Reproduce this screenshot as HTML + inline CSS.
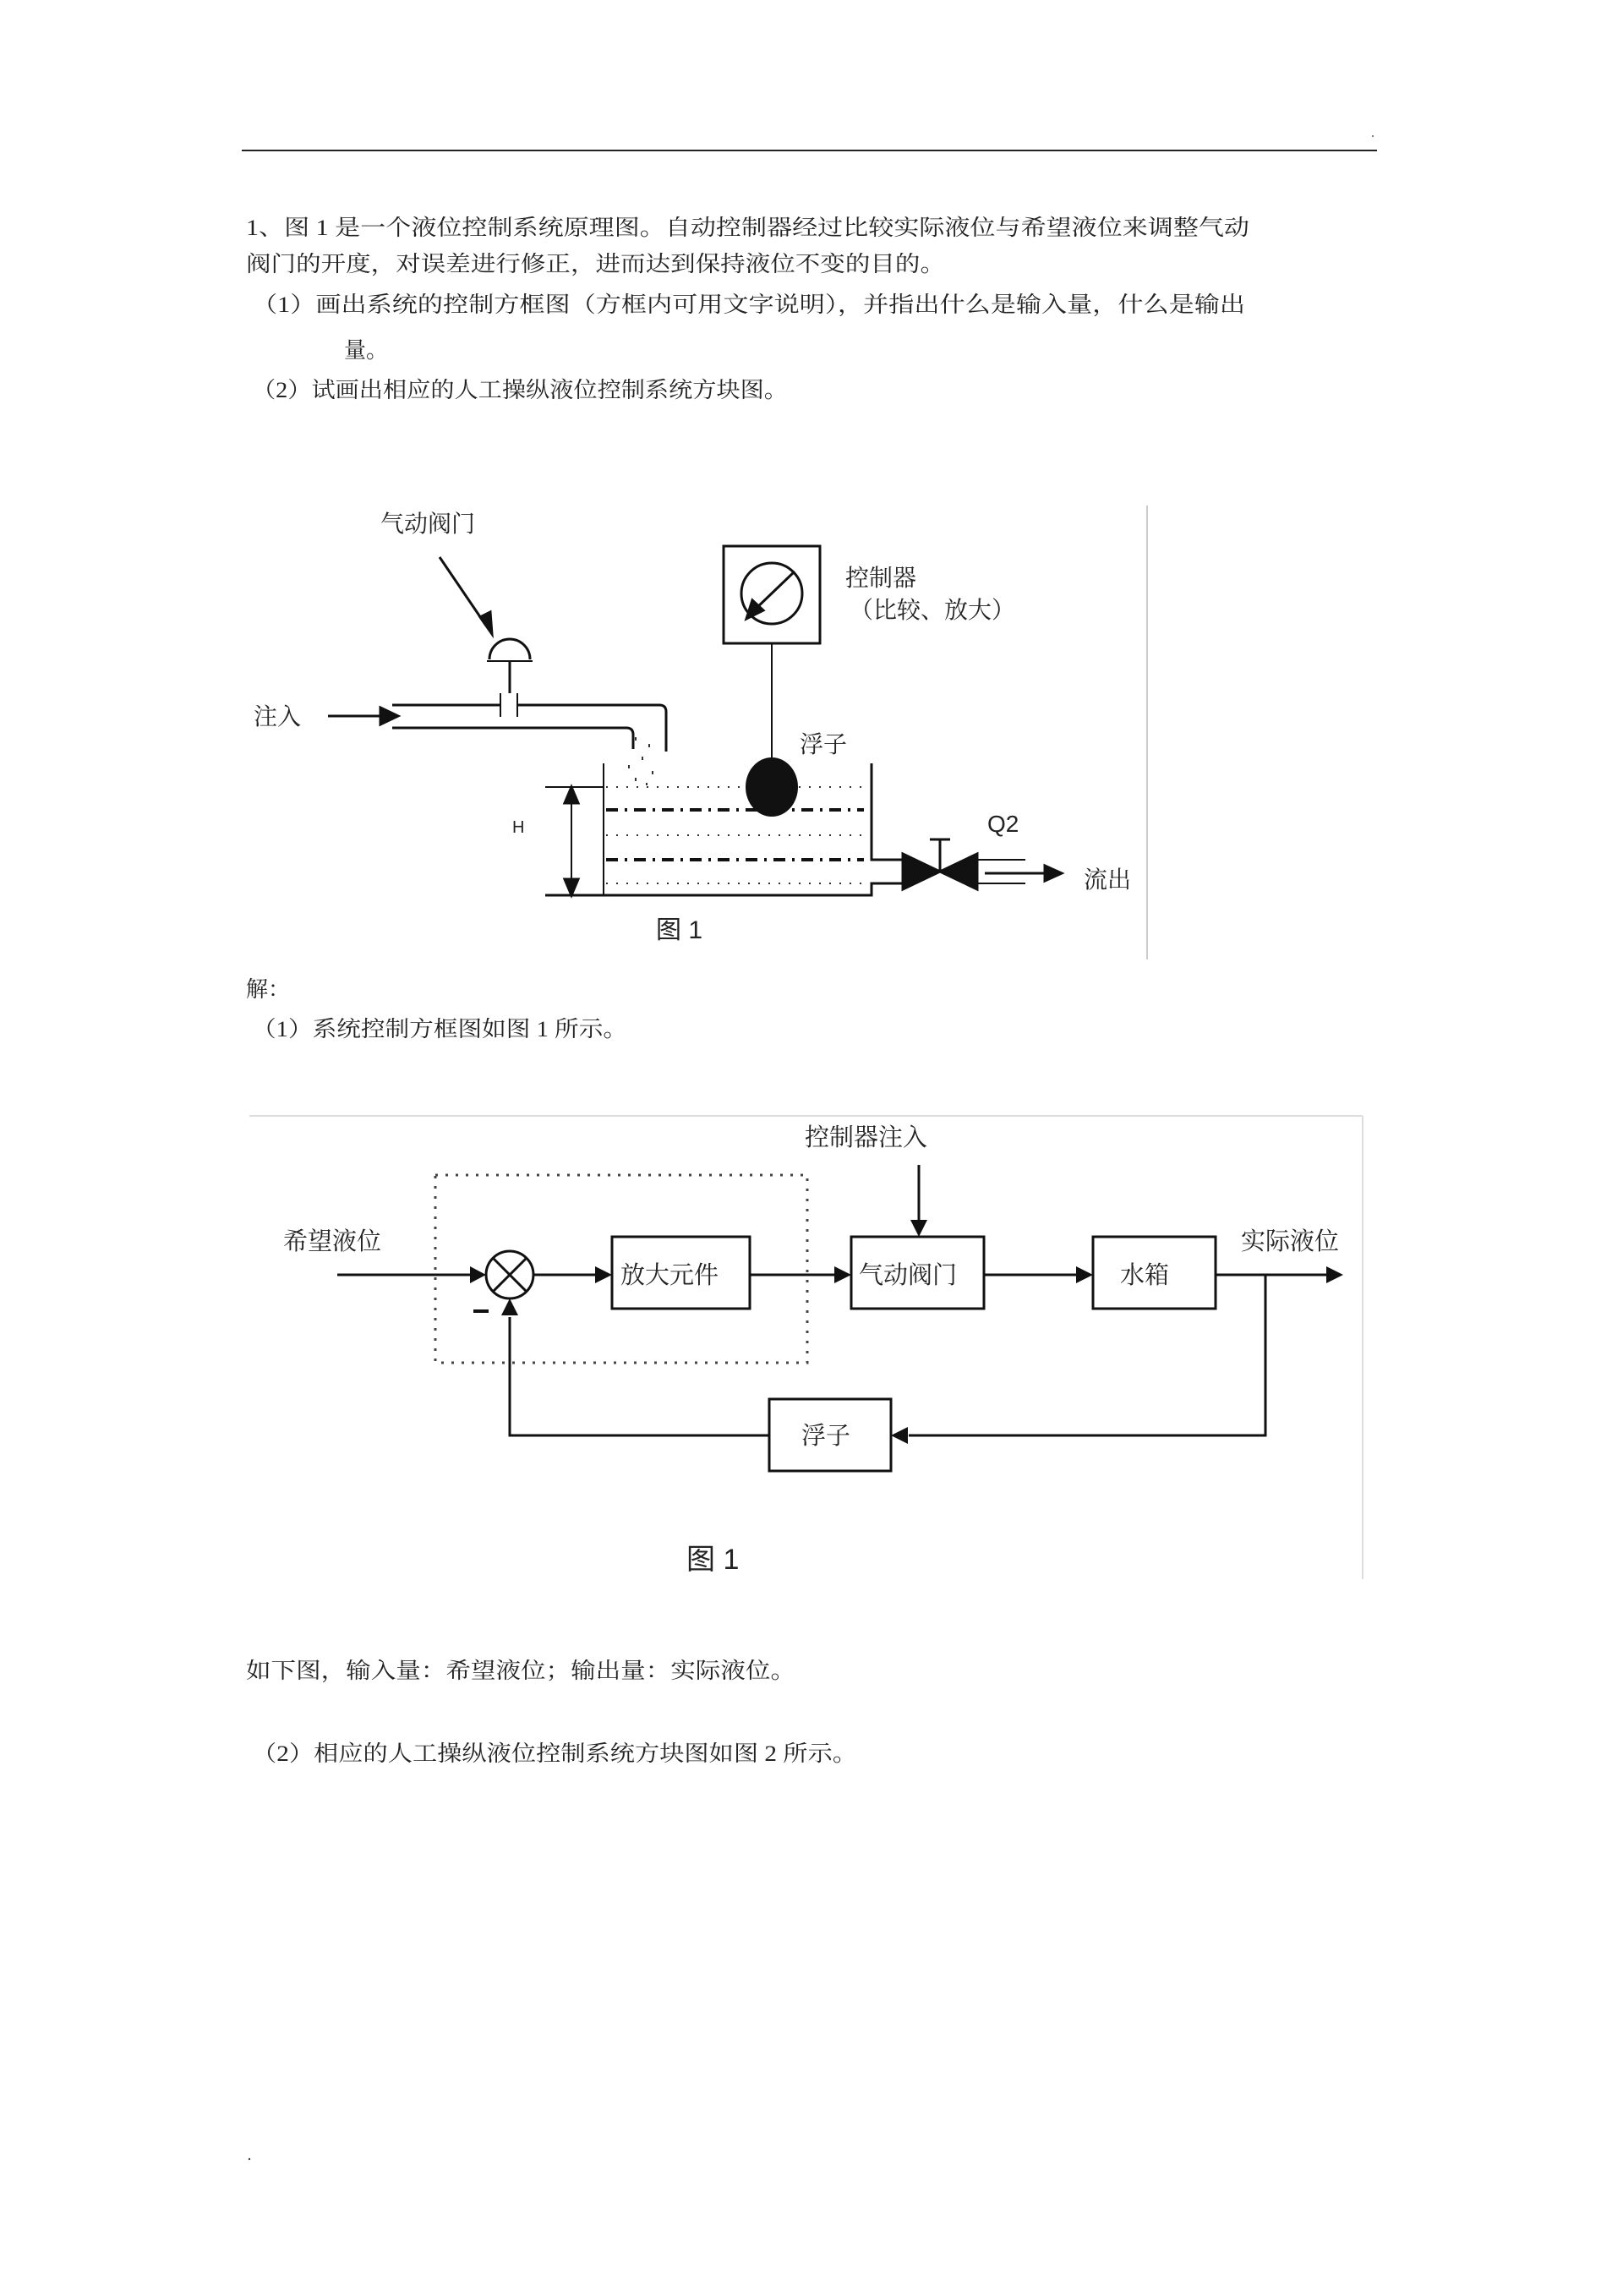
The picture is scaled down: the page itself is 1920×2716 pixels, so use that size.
<!DOCTYPE html>
<html><head><meta charset="utf-8"><style>
html,body{margin:0;padding:0;background:#fff;}
svg{display:block;}
text{font-family:"Liberation Serif","Noto Serif CJK SC",serif;fill:#222;}
.s{font-family:"Liberation Sans","Noto Sans CJK SC",sans-serif;}
</style></head><body>
<svg width="1920" height="2716" viewBox="0 0 1920 2716" xmlns="http://www.w3.org/2000/svg">
<rect width="1920" height="2716" fill="#fff"/>
<line x1="286" y1="178" x2="1629" y2="178" stroke="#222" stroke-width="2"/>
<circle cx="1624" cy="161" r="1" fill="#555"/>
<g font-size="26">
<text x="291" y="278" textLength="1187" lengthAdjust="spacingAndGlyphs">1、图 1 是一个液位控制系统原理图。自动控制器经过比较实际液位与希望液位来调整气动</text>
<text x="291" y="321" textLength="827" lengthAdjust="spacingAndGlyphs">阀门的开度，对误差进行修正，进而达到保持液位不变的目的。</text>
<text x="298" y="369" textLength="1175" lengthAdjust="spacingAndGlyphs">（1）画出系统的控制方框图（方框内可用文字说明），并指出什么是输入量，什么是输出</text>
<text x="407" y="423">量。</text>
<text x="298" y="470" textLength="634" lengthAdjust="spacingAndGlyphs">（2）试画出相应的人工操纵液位控制系统方块图。</text>
<text x="291" y="1179">解：</text>
<text x="298" y="1226" textLength="444" lengthAdjust="spacingAndGlyphs">（1）系统控制方框图如图 1 所示。</text>
<text x="291" y="1985" textLength="650" lengthAdjust="spacingAndGlyphs">如下图，输入量：希望液位；输出量：实际液位。</text>
<text x="298" y="2083" textLength="716" lengthAdjust="spacingAndGlyphs">（2）相应的人工操纵液位控制系统方块图如图 2 所示。</text>
</g>
<circle cx="295" cy="2554" r="1.2" fill="#444"/>

<!-- Figure 1 tank -->
<line x1="1357" y1="598" x2="1357" y2="1135" stroke="#ccc" stroke-width="2"/>
<g font-size="28">
<text x="450" y="629">气动阀门</text>
<text x="300" y="857">注入</text>
<text x="1000" y="693">控制器</text>
<text x="1005" y="731">（比较、放大）</text>
<text x="946" y="890">浮子</text>
<text x="1282" y="1050">流出</text>
</g>
<text class="s" x="606" y="985" font-size="20">H</text>
<text class="s" x="1168" y="984" font-size="28">Q2</text>
<text class="s" x="776" y="1110" font-size="30">图 1</text>
<defs>
<marker id="ah" markerWidth="10" markerHeight="10" refX="9" refY="5" orient="auto" markerUnits="userSpaceOnUse"><path d="M0,0 L10,5 L0,10 z" fill="#111"/></marker>
</defs>
<g stroke="#111" fill="none" stroke-width="3">
<line x1="520" y1="659" x2="575" y2="740"/>
<path d="M568,730 L582,750 L580,724 z" fill="#111"/>
<path d="M579,780 A24,24 0 0 1 627,780" />
<line x1="576" y1="782" x2="630" y2="782" stroke-width="2"/>
<line x1="603" y1="782" x2="603" y2="820"/>
<line x1="388" y1="847" x2="460" y2="847"/>
<path d="M450,837 L471,847 L450,857 z" fill="#111"/>
<path d="M464,834 L592,834 M612,834 L780,834 Q788,834 788,842 L788,889"/>
<path d="M592,820 L592,848 M612,820 L612,848" stroke-width="2"/>
<path d="M464,861 L741,861 Q749,861 749,869 L749,886"/>
<rect x="856" y="646" width="114" height="115" stroke-width="3"/>
<circle cx="913" cy="702" r="36"/>
<line x1="940" y1="676" x2="892" y2="722"/>
<path d="M883,732 L890,710 L903,722 z" fill="#111"/>
<line x1="913" y1="761" x2="913" y2="901" stroke-width="2"/>
<path d="M714,903 L714,1059" stroke-width="2"/>
<path d="M645,1059 L1031,1059 L1031,1045 L1068,1045"/>
<path d="M1031,903 L1031,1017 L1068,1017"/>
<line x1="645" y1="931" x2="714" y2="931" stroke-width="2"/>
<line x1="676" y1="935" x2="676" y2="1055" stroke-width="2"/>
<path d="M668,950 L676,931 L684,950 z M668,1040 L676,1059 L684,1040 z" fill="#111"/>
</g>
<g stroke="#333" stroke-width="2" fill="none">
<line x1="717" y1="931" x2="1022" y2="931" stroke-dasharray="2,10"/>
<line x1="717" y1="988" x2="1022" y2="988" stroke-dasharray="2,10"/>
<line x1="717" y1="1045" x2="1022" y2="1045" stroke-dasharray="2,10"/>
<line x1="717" y1="958" x2="1022" y2="958" stroke-dasharray="14,8,3,8" stroke-width="4" stroke="#111"/>
<line x1="717" y1="1017" x2="1022" y2="1017" stroke-dasharray="14,8,3,8" stroke-width="4" stroke="#111"/>
<path d="M752,872 v4 M768,880 v4 M760,895 v4 M744,905 v4 M772,912 v4 M752,920 v4 M765,926 v3" stroke-width="2"/>
</g>
<ellipse cx="913" cy="931" rx="31" ry="35" fill="#111"/>
<g fill="#111" stroke="#111" stroke-width="3">
<path d="M1068,1010 L1112,1031 L1068,1052 z"/>
<path d="M1156,1010 L1112,1031 L1156,1052 z"/>
<line x1="1112" y1="1031" x2="1112" y2="993"/>
<line x1="1100" y1="993" x2="1124" y2="993"/>
<line x1="1156" y1="1017" x2="1213" y2="1017" stroke-width="2"/>
<line x1="1156" y1="1045" x2="1213" y2="1045" stroke-width="2"/>
<line x1="1165" y1="1033" x2="1240" y2="1033"/>
<path d="M1236,1024 L1256,1033 L1236,1042 z"/>
</g>

<!-- Block diagram -->
<line x1="295" y1="1320" x2="1612" y2="1320" stroke="#ddd" stroke-width="2"/>
<line x1="1612" y1="1320" x2="1612" y2="1868" stroke="#ddd" stroke-width="2"/>
<rect x="515" y="1390" width="440" height="222" fill="none" stroke="#444" stroke-width="3" stroke-dasharray="3,9"/>
<g font-size="29">
<text x="952" y="1355">控制器注入</text>
<text x="335" y="1478">希望液位</text>
<text x="1468" y="1478">实际液位</text>
<text x="734" y="1518">放大元件</text>
<text x="1016" y="1518">气动阀门</text>
<text x="1325" y="1518">水箱</text>
<text x="948" y="1708">浮子</text>
</g>
<text class="s" x="812" y="1856" font-size="34">图 1</text>
<g stroke="#111" stroke-width="3" fill="none">
<circle cx="603" cy="1508" r="28"/>
<line x1="583" y1="1488" x2="623" y2="1528"/>
<line x1="623" y1="1488" x2="583" y2="1528"/>
<rect x="724" y="1463" width="163" height="85"/>
<rect x="1007" y="1463" width="157" height="85"/>
<rect x="1293" y="1463" width="145" height="85"/>
<rect x="910" y="1655" width="144" height="85"/>
<line x1="399" y1="1508" x2="560" y2="1508"/>
<line x1="631" y1="1508" x2="705" y2="1508"/>
<line x1="887" y1="1508" x2="988" y2="1508"/>
<line x1="1164" y1="1508" x2="1275" y2="1508"/>
<line x1="1438" y1="1508" x2="1570" y2="1508"/>
<line x1="1087" y1="1378" x2="1087" y2="1445"/>
<path d="M1497,1508 L1497,1698 L1075,1698"/>
<path d="M910,1698 L603,1698 L603,1558"/>
<line x1="560" y1="1551" x2="578" y2="1551" stroke-width="4"/>
</g>
<g fill="#111">
<path d="M556,1498 L575,1508 L556,1518 z"/>
<path d="M704,1498 L724,1508 L704,1518 z"/>
<path d="M987,1498 L1007,1508 L987,1518 z"/>
<path d="M1273,1498 L1293,1508 L1273,1518 z"/>
<path d="M1569,1498 L1589,1508 L1569,1518 z"/>
<path d="M1077,1443 L1087,1463 L1097,1443 z"/>
<path d="M1074,1688 L1054,1698 L1074,1708 z"/>
<path d="M593,1556 L603,1536 L613,1556 z"/>
</g>
</svg>
</body></html>
